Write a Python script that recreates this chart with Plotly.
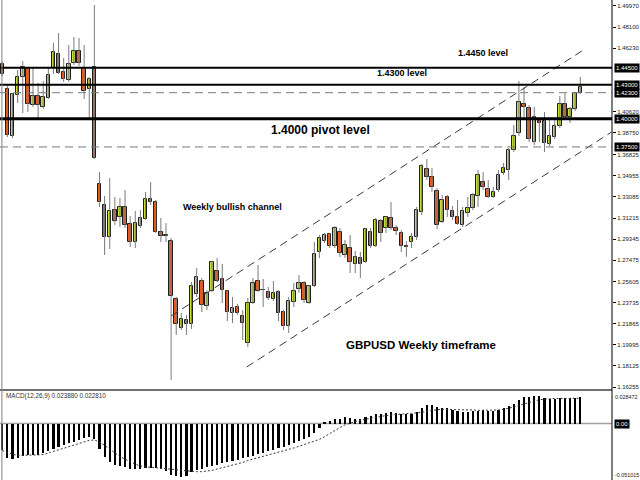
import plotly.graph_objects as go

# ---------------- data (weekly GBPUSD candles) ----------------
opens = [
    1.4484, 1.4263, 1.3847, 1.4210, 1.4369, 1.4448, 1.4121, 1.4201, 1.4103, 1.4183,
    1.4448, 1.4572, 1.4413, 1.4342, 1.4493, 1.4599, 1.4448, 1.4263, 1.4457, 1.3422,
    1.3237, 1.2954, 1.3192, 1.3130, 1.3219, 1.3069, 1.2909, 1.3051, 1.3113, 1.3290,
    1.3263, 1.2998, 1.2962, 1.2918, 1.2405, 1.2149, 1.2219, 1.2184, 1.2449, 1.2564,
    1.2343, 1.2476, 1.2653, 1.2582, 1.2476, 1.2281, 1.2334, 1.2255, 1.2016, 1.2370,
    1.2564, 1.2485, 1.2467, 1.2405, 1.2467, 1.2290, 1.2166, 1.2379, 1.2493, 1.2547,
    1.2370, 1.2520, 1.2821, 1.2918, 1.2980, 1.2874, 1.2998, 1.2794, 1.2856, 1.2715,
    1.2768, 1.2732, 1.2998, 1.2874, 1.3095, 1.3033, 1.3122, 1.3033, 1.2989, 1.2874,
    1.2909, 1.2954, 1.3175, 1.3555, 1.3484, 1.3360, 1.3086, 1.3307, 1.3184, 1.3130,
    1.3060, 1.3166, 1.3210, 1.3316, 1.3440, 1.3378, 1.3307, 1.3369, 1.3520, 1.3546,
    1.3723, 1.3873, 1.4130, 1.4095, 1.3794, 1.3980, 1.3980, 1.3776, 1.3838, 1.3935,
    1.4130, 1.4015, 1.4086, 1.4227]

highs = [
    1.4502, 1.4289, 1.4227, 1.4431, 1.4510, 1.4457, 1.4448, 1.4316, 1.4333, 1.4448,
    1.4670, 1.4758, 1.4537, 1.4652, 1.4723, 1.4714, 1.4652, 1.4369, 1.5006, 1.3528,
    1.3316, 1.3475, 1.3307, 1.3299, 1.3369, 1.3139, 1.3184, 1.3192, 1.3352, 1.3440,
    1.3281, 1.3122, 1.3077, 1.2945, 1.2423, 1.2281, 1.2264, 1.2555, 1.2679, 1.2591,
    1.2485, 1.2741, 1.2768, 1.2715, 1.2485, 1.2423, 1.2361, 1.2308, 1.2414, 1.2591,
    1.2706, 1.2582, 1.2511, 1.2564, 1.2485, 1.2308, 1.2423, 1.2547, 1.2617, 1.2564,
    1.2529, 1.2909, 1.2971, 1.2989, 1.2989, 1.3051, 1.3033, 1.2927, 1.2971, 1.2830,
    1.2821, 1.3033, 1.3033, 1.3122, 1.3113, 1.3139, 1.3263, 1.3060, 1.3015, 1.2918,
    1.2989, 1.3219, 1.3599, 1.3643, 1.3564, 1.3387, 1.3325, 1.3325, 1.3228, 1.3281,
    1.3219, 1.3307, 1.3343, 1.3546, 1.3528, 1.3458, 1.3396, 1.3546, 1.3608, 1.3741,
    1.3944, 1.4333, 1.4280, 1.4121, 1.4103, 1.4015, 1.4059, 1.3988, 1.3988, 1.4201,
    1.4227, 1.4103, 1.4235, 1.4369]

lows = [
    1.4378, 1.3838, 1.3829, 1.4139, 1.4050, 1.4059, 1.4103, 1.4006, 1.4086, 1.4174,
    1.4395, 1.4395, 1.4325, 1.4325, 1.4475, 1.4466, 1.4174, 1.4006, 1.3643, 1.3219,
    1.2794, 1.2847, 1.3060, 1.3042, 1.3033, 1.2865, 1.2856, 1.3033, 1.3104, 1.3237,
    1.2989, 1.2909, 1.2909, 1.1689, 1.2087, 1.2131, 1.2087, 1.2140, 1.2423, 1.2290,
    1.2308, 1.2467, 1.2555, 1.2370, 1.2210, 1.2193, 1.2264, 1.2042, 1.1980, 1.2361,
    1.2467, 1.2334, 1.2396, 1.2387, 1.2210, 1.2131, 1.2104, 1.2334, 1.2458, 1.2370,
    1.2361, 1.2511, 1.2768, 1.2900, 1.2856, 1.2856, 1.2777, 1.2768, 1.2635, 1.2635,
    1.2591, 1.2724, 1.2856, 1.2865, 1.2909, 1.2989, 1.3015, 1.2971, 1.2821, 1.2777,
    1.2856, 1.2927, 1.3148, 1.3458, 1.3352, 1.3024, 1.3077, 1.3130, 1.3104, 1.3060,
    1.3042, 1.3130, 1.3192, 1.3219, 1.3369, 1.3299, 1.3299, 1.3352, 1.3502, 1.3458,
    1.3705, 1.3847, 1.3988, 1.3794, 1.3767, 1.3794, 1.3705, 1.3758, 1.3820, 1.3918,
    1.4006, 1.3962, 1.4068, 1.4218]

closes = [
    1.4395, 1.3856, 1.4218, 1.4369, 1.4457, 1.4130, 1.4201, 1.4121, 1.4192, 1.4387,
    1.4590, 1.4404, 1.4351, 1.4484, 1.4599, 1.4493, 1.4245, 1.4351, 1.3652, 1.3263,
    1.2954, 1.3184, 1.3095, 1.3219, 1.3060, 1.2909, 1.3077, 1.3122, 1.3290, 1.3263,
    1.2998, 1.2962, 1.2971, 1.2432, 1.2184, 1.2228, 1.2184, 1.2520, 1.2600, 1.2352,
    1.2458, 1.2732, 1.2564, 1.2485, 1.2290, 1.2325, 1.2281, 1.2193, 1.2370, 1.2547,
    1.2476, 1.2489, 1.2414, 1.2458, 1.2281, 1.2166, 1.2387, 1.2476, 1.2547, 1.2396,
    1.2520, 1.2803, 1.2945, 1.2971, 1.2874, 1.3033, 1.2812, 1.2883, 1.2732, 1.2777,
    1.2715, 1.3024, 1.2874, 1.3104, 1.2989, 1.3130, 1.3033, 1.3007, 1.2874, 1.2865,
    1.2954, 1.3192, 1.3582, 1.3484, 1.3396, 1.3060, 1.3281, 1.3192, 1.3130, 1.3069,
    1.3184, 1.3210, 1.3325, 1.3502, 1.3396, 1.3307, 1.3352, 1.3502, 1.3564, 1.3723,
    1.3847, 1.4148, 1.4103, 1.3820, 1.4015, 1.3962, 1.3785, 1.3847, 1.3935, 1.4130,
    1.4015, 1.4086, 1.4227, 1.4280]

macd_main = [
    -0.0238, -0.0313, -0.0322, -0.0307, -0.0292, -0.0283, -0.0283, -0.0283, -0.0268, -0.0247,
    -0.0226, -0.0209, -0.0191, -0.0179, -0.0164, -0.0149, -0.0134, -0.0119, -0.0140, -0.0232,
    -0.0304, -0.0352, -0.0373, -0.0387, -0.0396, -0.0408, -0.0411, -0.0411, -0.0405, -0.0399,
    -0.0405, -0.0411, -0.0426, -0.0462, -0.0477, -0.0486, -0.0471, -0.0441, -0.0423, -0.0408,
    -0.0393, -0.0387, -0.0373, -0.0358, -0.0352, -0.0343, -0.0328, -0.0313, -0.0304, -0.0292,
    -0.0277, -0.0262, -0.0250, -0.0238, -0.0224, -0.0209, -0.0197, -0.0179, -0.0161, -0.0143,
    -0.0119, -0.0089, -0.0036, 0.0008, 0.0024, 0.0045, 0.0045, 0.0060, 0.0051, 0.0045,
    0.0045, 0.0060, 0.0069, 0.0083, 0.0089, 0.0098, 0.0104, 0.0095, 0.0089, 0.0083,
    0.0089, 0.0101, 0.0140, 0.0167, 0.0164, 0.0149, 0.0143, 0.0140, 0.0125, 0.0110,
    0.0101, 0.0101, 0.0110, 0.0116, 0.0119, 0.0116, 0.0116, 0.0125, 0.0140, 0.0155,
    0.0179, 0.0215, 0.0238, 0.0244, 0.0247, 0.0247, 0.0232, 0.0224, 0.0218, 0.0229,
    0.0229, 0.0229, 0.0229, 0.02388]

macd_signal = [
    -0.0244, -0.0262, -0.0277, -0.0289, -0.0289, -0.0286, -0.0286, -0.0283, -0.0280, -0.0268,
    -0.0253, -0.0238, -0.0224, -0.0209, -0.0194, -0.0179, -0.0164, -0.0152, -0.0149, -0.0167,
    -0.0197, -0.0232, -0.0268, -0.0298, -0.0322, -0.0346, -0.0367, -0.0384, -0.0393, -0.0396,
    -0.0399, -0.0402, -0.0405, -0.0411, -0.0417, -0.0423, -0.0429, -0.0435, -0.0435, -0.0435,
    -0.0432, -0.0423, -0.0411, -0.0399, -0.0387, -0.0378, -0.0367, -0.0352, -0.0334, -0.0322,
    -0.0310, -0.0298, -0.0286, -0.0274, -0.0262, -0.0247, -0.0232, -0.0221, -0.0206, -0.0191,
    -0.0176, -0.0161, -0.0143, -0.0119, -0.0089, -0.0066, -0.0036, -0.0012, 0.0006, 0.0018,
    0.0030, 0.0039, 0.0045, 0.0054, 0.0063, 0.0072, 0.0077, 0.0083, 0.0086, 0.0089,
    0.0092, 0.0095, 0.0101, 0.0110, 0.0119, 0.0125, 0.0128, 0.0128, 0.0128, 0.0125,
    0.0125, 0.0122, 0.0122, 0.0119, 0.0119, 0.0119, 0.0119, 0.0122, 0.0128, 0.0137,
    0.0149, 0.0164, 0.0179, 0.0191, 0.0203, 0.0215, 0.0221, 0.0224, 0.0226, 0.0226,
    0.0226, 0.0229, 0.0229, 0.02281]

price_ticks = [1.49970, 1.48100, 1.46230, 1.40620, 1.38750, 1.36825, 1.34955, 1.33085,
               1.31215, 1.29345, 1.27475, 1.25605, 1.23735, 1.21865, 1.19995, 1.18125, 1.16255]
price_tick_labels = ["1.49970", "1.48100", "1.46230", "1.40620", "1.38750", "1.36825", "1.34955",
                     "1.33085", "1.31215", "1.29345", "1.27475", "1.25605", "1.23735", "1.21865",
                     "1.19995", "1.18125", "1.16255"]

level_values = [1.4450, 1.4300, 1.4230, 1.4000, 1.3750]
level_labels = ["1.44500", "1.43000", "1.42300", "1.40000", "1.37500"]

channel_upper_x = [33.0, 113.3]
channel_upper_y = [1.2255, 1.4599]
channel_lower_x = [47.8, 119.1]
channel_lower_y = [1.1804, 1.3882]

macd_axis_labels = ["0.028472", "0.00", "-0.051015"]
macd_axis_values = [0.028472, 0.0, -0.051015]
macd_title = "MACD(12,26,9) 0.023880 0.022810"

# ---------------- figure ----------------
W, H = 640, 480
right = 612 / W
main_bottom = 1 - 390 / H
macd_top = 1 - 392 / H
label_font = dict(family='Liberation Sans', size=6, color='#222')
small_font = dict(family='Liberation Sans', size=5.4, color='#222')

n = len(opens)
idx = list(range(n))
bull = [c >= o for o, c in zip(opens, closes)]
body_base = [min(o, c) for o, c in zip(opens, closes)]
body_size = [max(abs(c - o), 0.00015) for o, c in zip(opens, closes)]
body_colors = ['#c8dc36' if b else '#ea5a1d' for b in bull]

wick_x, wick_y = [], []
for i, (h, l) in enumerate(zip(highs, lows)):
    wick_x += [i, i, None]
    wick_y += [l, h, None]

fig = go.Figure()
fig.add_trace(go.Scatter(x=wick_x, y=wick_y, mode='lines',
                         line=dict(color='#7a7a7a', width=1),
                         xaxis='x', yaxis='y', hoverinfo='skip', showlegend=False))
fig.add_trace(go.Bar(x=idx, y=body_size, base=body_base, width=0.68,
                     marker=dict(color=body_colors, line=dict(color='#1e1e1e', width=1)),
                     xaxis='x', yaxis='y', showlegend=False))
for cx, cy in [(channel_upper_x, channel_upper_y), (channel_lower_x, channel_lower_y)]:
    fig.add_trace(go.Scatter(x=cx, y=cy, mode='lines',
                             line=dict(color='#3a3a3a', width=1, dash='8px,5px'),
                             xaxis='x', yaxis='y', showlegend=False, hoverinfo='skip'))

fig.add_trace(go.Bar(x=idx, y=macd_main, width=0.42,
                     marker=dict(color='black', line=dict(width=0)),
                     xaxis='x2', yaxis='y2', showlegend=False))
fig.add_trace(go.Scatter(x=idx, y=macd_signal, mode='lines',
                         line=dict(color='#3a3a3a', width=1, dash='2px,2px'),
                         xaxis='x2', yaxis='y2', showlegend=False))

shapes = []
level_styles = [
    dict(color='black', width=2, dash='solid'),
    dict(color='black', width=2, dash='solid'),
    dict(color='#7a7a7a', width=1, dash='8px,5px'),
    dict(color='black', width=3, dash='solid'),
    dict(color='#7a7a7a', width=1, dash='8px,5px'),
]
for v, st in zip(level_values, level_styles):
    shapes.append(dict(type='line', xref='paper', yref='y', x0=0, x1=right, y0=v, y1=v,
                       line=st, layer='above'))
# panel separator, zero line, borders
shapes.append(dict(type='line', xref='paper', yref='paper', x0=0, x1=right,
                   y0=main_bottom, y1=main_bottom, line=dict(color='#707070', width=2)))
shapes.append(dict(type='line', xref='paper', yref='y2', x0=0, x1=right, y0=0, y1=0,
                   line=dict(color='#a0a0a0', width=1.5), layer='below'))
shapes.append(dict(type='line', xref='paper', yref='paper', x0=0.003, x1=0.003, y0=0, y1=1,
                   line=dict(color='#808080', width=1)))
shapes.append(dict(type='line', xref='paper', yref='paper', x0=right, x1=right, y0=0, y1=1,
                   line=dict(color='black', width=1)))

annotations = []
for v, t in zip(level_values, level_labels):
    annotations.append(dict(x=right + 0.003, y=v, xref='paper', yref='y', xanchor='left',
                            yanchor='middle', text=t, showarrow=False, bgcolor='black',
                            borderpad=1, font=dict(family='Liberation Sans', size=6, color='white')))
annotations.append(dict(x=right + 0.003, y=macd_axis_values[1], xref='paper', yref='y2',
                        xanchor='left', yanchor='middle', text=macd_axis_labels[1], showarrow=False,
                        bgcolor='black', borderpad=1,
                        font=dict(family='Liberation Sans', size=6, color='white')))
annotations.append(dict(x=right + 0.002, y=macd_axis_values[0], xref='paper', yref='y2',
                        xanchor='left', yanchor='top', text=macd_axis_labels[0], showarrow=False,
                        font=small_font))
annotations.append(dict(x=right + 0.002, y=macd_axis_values[2], xref='paper', yref='y2',
                        xanchor='left', yanchor='bottom', text=macd_axis_labels[2], showarrow=False,
                        font=small_font))
annotations.append(dict(x=0.007, y=1 - 396 / H, xref='paper', yref='paper', xanchor='left',
                        yanchor='middle', text=macd_title, showarrow=False,
                        font=dict(family='Liberation Sans', size=6.3, color='#333')))

texts = [
    ("1.4450 level", 483, 53, 9),
    ("1.4300 level", 402, 73, 9),
    ("1.4000 pivot level", 320, 130, 12),
    ("Weekly bullish channel", 232, 207, 9),
    ("GBPUSD Weekly timeframe", 421, 345, 11.5),
]
for t, px, py, fs in texts:
    annotations.append(dict(x=px / W, y=1 - py / H, xref='paper', yref='paper', xanchor='center',
                            yanchor='middle', text=t, showarrow=False,
                            font=dict(family='Liberation Sans', size=fs, color='black', weight='bold')))

xr = [-0.45, -0.45 + 612 / 5.115]
fig.update_layout(
    width=W, height=H, autosize=False,
    margin=dict(l=0, r=0, t=0, b=0),
    paper_bgcolor='white', plot_bgcolor='white',
    barmode='overlay', bargap=0, showlegend=False,
    xaxis=dict(domain=[0, right], range=xr, visible=False, anchor='y'),
    xaxis2=dict(domain=[0, right], range=xr, visible=False, anchor='y2'),
    yaxis=dict(domain=[main_bottom, 1], range=[1.16001, 1.50500], side='right', anchor='x',
               tickvals=price_ticks, ticktext=price_tick_labels, ticks='outside', ticklen=3,
               tickcolor='black', showgrid=False, zeroline=False, showline=False,
               tickfont=label_font),
    yaxis2=dict(domain=[0, macd_top], range=[-0.051015, 0.028472], side='right', anchor='x2',
                showticklabels=False, ticks='', showgrid=False, zeroline=False, showline=False),
    shapes=shapes, annotations=annotations,
)

fig.write_html("out.html", config={'displayModeBar': False},
               post_script="document.body.style.margin='0';document.body.style.overflow='hidden';")
